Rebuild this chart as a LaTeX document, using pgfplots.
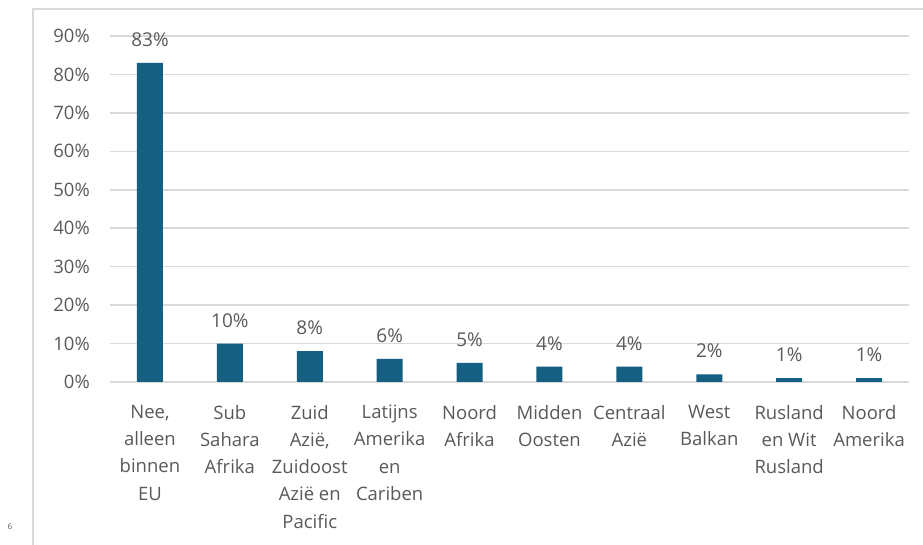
\documentclass[border=0pt]{standalone}
\usepackage{pgfplots}
\pgfplotsset{compat=1.18}
\usepackage{fontspec}
\setmainfont{Open Sans}
\definecolor{barc}{HTML}{156082}
\definecolor{txt}{HTML}{595959}
\definecolor{grd}{HTML}{D9D9D9}
\begin{document}
\begin{tikzpicture}[x=1pt,y=1pt]
\useasboundingbox (0,0) rectangle (923,545);
\draw[grd, line width=2pt] (33,0) -- (33,536) -- (923,536);
\node[txt, font=\fontsize{8}{9}\selectfont] at (10,18) {6};
\begin{axis}[
  at={(110pt,163pt)}, anchor=south west,
  scale only axis, width=799pt, height=346pt,
  xmin=-0.5, xmax=9.5, ymin=0, ymax=90,
  axis line style={draw=none},
  ymajorgrids, grid style={grd, line width=1.5pt},
  ytick={0,10,...,90},
  yticklabel={\pgfmathprintnumber{\tick}\%},
  xtick={0,...,9},
  xticklabels={{Nee,\\alleen\\binnen\\EU},{Sub\\Sahara\\Afrika},{Zuid\\Azië,\\Zuidoost\\Azië en\\Pacific},{Latijns\\Amerika\\en\\Cariben},{Noord\\Afrika},{Midden\\Oosten},{Centraal\\Azië},{West\\Balkan},{Rusland\\en Wit\\Rusland},{Noord\\Amerika}},
  major tick length=0pt,
  /pgf/number format/assume math mode=true,
  tick label style={txt, font=\fontsize{18.5}{27.2}\selectfont},
  yticklabel style={inner sep=0pt, xshift=-20pt},
  xticklabel style={align=center, inner sep=0pt, yshift=-23pt},
  ybar, bar width=26pt,
  nodes near coords={\pgfmathprintnumber{\pgfplotspointmeta}\%},
  nodes near coords style={txt, font=\fontsize{19}{22}\selectfont, inner sep=0pt, anchor=south, yshift=16pt},
]
\addplot[fill=barc, draw=none] coordinates {(0,83) (1,10) (2,8) (3,6) (4,5) (5,4) (6,4) (7,2) (8,1) (9,1)};
\end{axis}
\end{tikzpicture}
\end{document}
